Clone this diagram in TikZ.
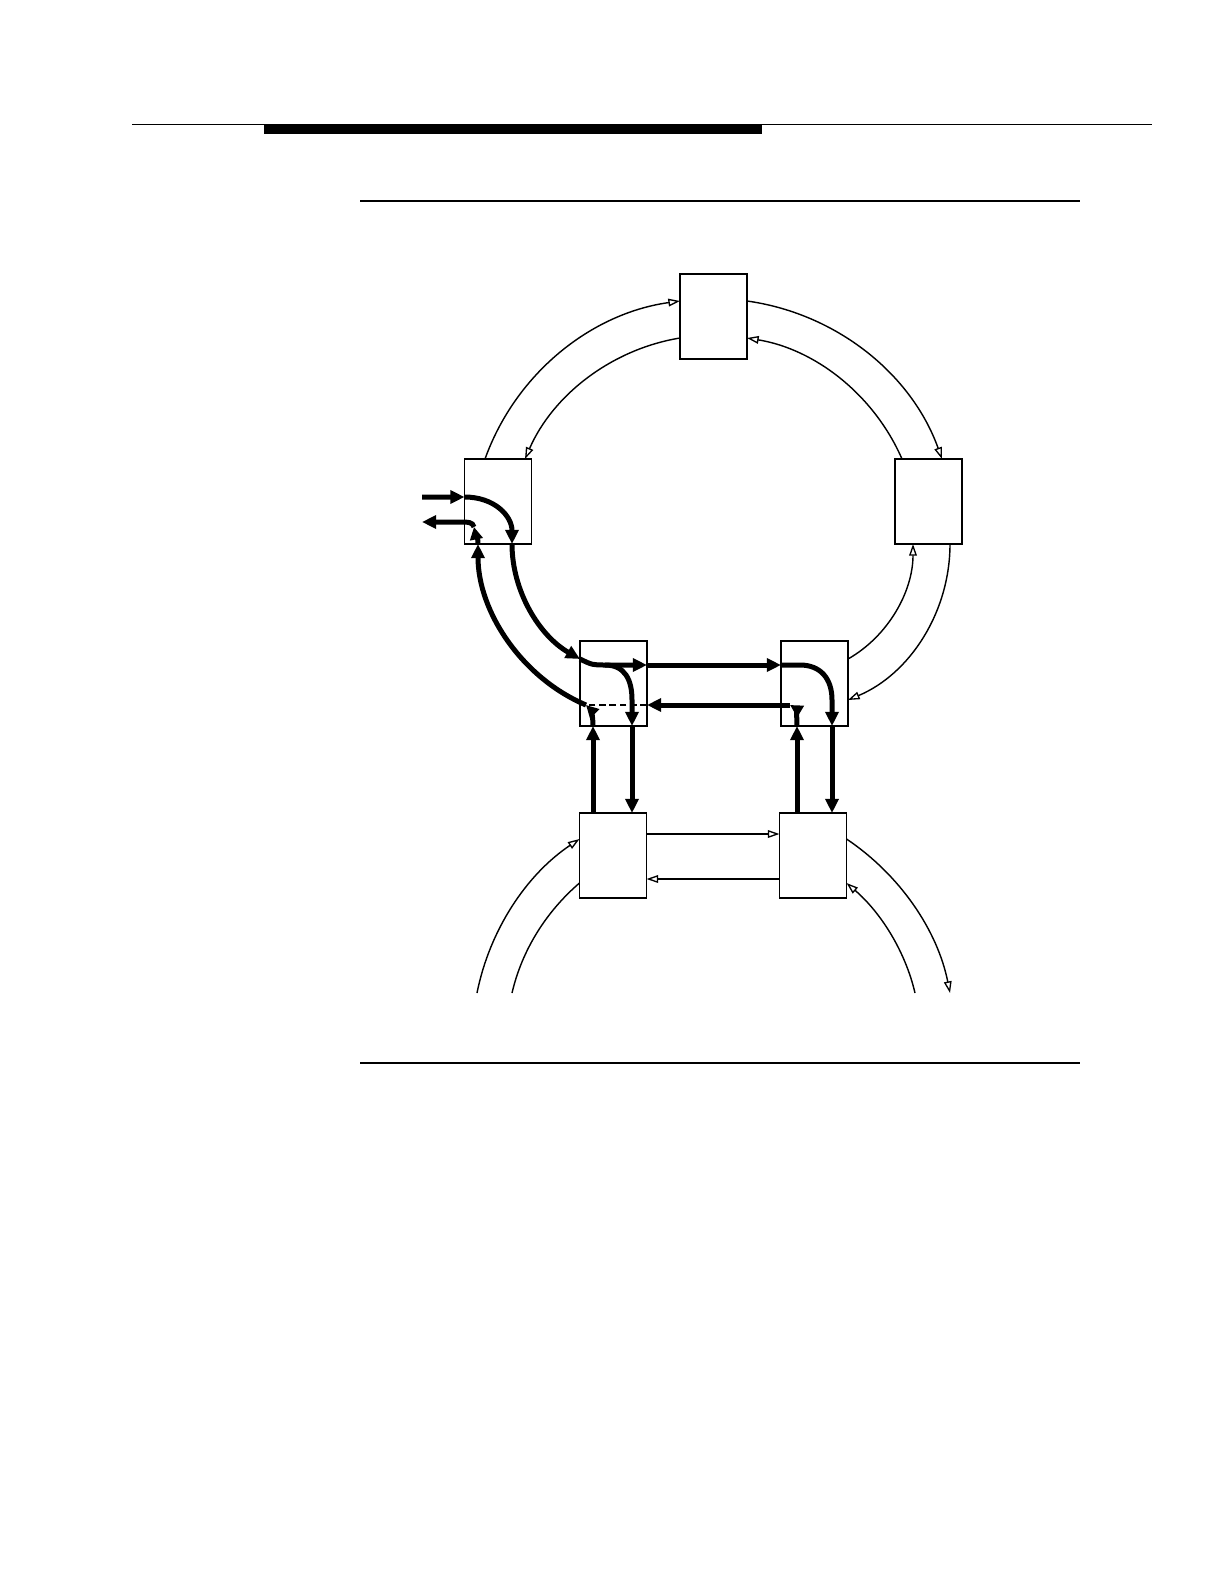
\documentclass[tikz,border=0pt]{standalone}
\usetikzlibrary{arrows.meta,calc}
\tikzset{
  ringbox/.style={draw, line width=0.9pt, minimum width=40.2pt, minimum height=51pt, inner sep=0pt, outer sep=0pt, fill=white},
  thinlink/.style={line width=0.85pt, -{Triangle[open,length=7pt,width=4.6pt,line width=0.8pt]}},
  thinplain/.style={line width=0.85pt},
  heavy/.style={line width=3pt, -{Triangle[length=8.5pt,width=7.8pt]}},
  heavytip/.style={line width=3pt, -{Triangle[length=7.5pt,width=7.5pt]}},
  rulethin/.style={line width=0.6pt},
  rulemid/.style={line width=0.9pt},
}
\begin{document}
\begin{tikzpicture}[x=0.6pt,y=-0.6pt]
\useasboundingbox (0,0) rectangle (1222,1582);
% header rules
\draw[rulethin] (132,125) -- (1152,125);
\fill (264,125) rectangle (762,134);
\draw[rulemid] (360,201) -- (1080,201);
\draw[rulemid] (360,1063) -- (1080,1063);

% boxes
\node[ringbox] (T) at (713.5,316.5) {};
\node[ringbox] (L) at (498,501.5) {};
\node[ringbox] (R) at (928.5,501.5) {};
\node[ringbox] (ML) at (613.5,683.5) {};
\node[ringbox] (MR) at (814.5,683.5) {};
\node[ringbox] (BL) at (613,855.5) {};
\node[ringbox] (BR) at (813,855.5) {};

% free ends
\coordinate (ain) at (422,497);
\coordinate (aout) at (422,522);
\coordinate (lo1) at (477,993);
\coordinate (lo2) at (512,993);
\coordinate (lo3) at (950,993);
\coordinate (lo4) at (915,993);
\coordinate (j1) at ($(ML.north west)+(25,24)$);
\coordinate (j2) at ($(MR.north west)+(9,64)$);
\coordinate (j3) at ($(ML.north west)+(6,64)$);
\coordinate (j4) at ($(L.north west)+(9.5,68)$);
\coordinate (j5) at ($(L.north west)+(-2.5,63)$);

% upper ring, thin
\draw[thinlink] ($(L.north west)+(20.5,0)$) .. controls +(30.5,-85.1) and +(-89.4,12.5) .. ($(T.north west)+(0,27)$);
\draw[thinlink] ($(T.north west)+(0,64)$) .. controls +(-68.7,11.3) and +(27.8,-63.8) .. ($(L.north west)+(60.5,0)$);
\draw[thinlink] ($(T.north east)+(0,27)$) .. controls +(89.4,12.5) and +(-30.5,-85.1) .. ($(R.north west)+(47,0)$);
\draw[thinlink] ($(R.north west)+(7,0)$) .. controls +(-27.8,-63.8) and +(68.7,11.3) .. ($(T.north east)+(0,64)$);
\draw[thinlink] ($(R.south west)+(55,0)$) .. controls +(0,67.6) and +(62.3,-26.2) .. ($(MR.north east)+(0,59)$);
\draw[thinlink] ($(MR.north east)+(0,18)$) .. controls +(40.8,-23.3) and +(0,47) .. ($(R.south west)+(18,0)$);

% lower ring, thin
\draw[thinlink] (lo1) .. controls +(12.5,-62.7) and +(-53.3,35.7) .. ($(BL.north west)+(0,26)$);
\draw[thinplain] (lo2) .. controls +(10,-42.9) and +(-33.4,28.7) .. ($(BL.north west)+(0,70)$);
\draw[thinlink] ($(BR.north east)+(0,26)$) .. controls +(53.3,35.7) and +(-12.5,-62.7) .. (lo3);
\draw[thinlink] (lo4) .. controls +(-10,-42.9) and +(33.4,28.7) .. ($(BR.north east)+(0,70)$);
\draw[thinlink] ($(BL.north east)+(0,21)$) -- ($(BR.north west)+(0,21)$);
\draw[thinlink] ($(BR.north west)+(0,66)$) -- ($(BL.north east)+(0,66)$);

% heavy forward path
\draw[heavy] (ain) -- ($(L.north west)+(0,38)$);
\draw[heavy] ($(L.north west)+(0,38)$) .. controls +(30,0) and +(0,-28) .. ($(L.south west)+(47.5,0)$);
\draw[heavy] ($(L.south west)+(47.5,0)$) .. controls +(0,47) and +(-40.8,-23.3) .. ($(ML.north west)+(0,18)$);
\draw[heavy] ($(ML.north west)+(0,18)$) .. controls +(12,6) and +(-12,0) .. (j1) -- ($(ML.north east)+(0,24)$);
\draw[heavy] ($(ML.north east)+(0,24)$) -- ($(MR.north west)+(0,24)$);
\draw[heavy] ($(MR.north west)+(0,24)$) -- ++(19,0) .. controls +(20,0) and +(0,-22) .. ++(32,35) -- ($(MR.south west)+(51,0)$);
\draw[heavy] ($(MR.south west)+(51,0)$) -- ($(BR.north west)+(52.5,0)$);
\draw[heavy] (j1) .. controls +(20,0) and +(0,-20) .. ($(j1)+(27,35)$) -- ($(ML.south west)+(52,0)$);
\draw[heavy] ($(ML.south west)+(52,0)$) -- ($(BL.north west)+(52.5,0)$);

% heavy return path
\draw[heavy] ($(BR.north west)+(17.5,0)$) -- ($(MR.south west)+(16,0)$);
\draw[heavytip] ($(MR.south west)+(16,0)$) .. controls +(0,-12) and +(5,3) .. (j2);
\draw[heavy] (j2) -- ($(ML.north east)+(0,64)$);
\draw[line width=1pt, dash pattern=on 4pt off 2.2pt] ($(ML.north east)+(0,64)$) -- (j3);
\draw[heavy] ($(BL.north west)+(13.5,0)$) -- ($(ML.south west)+(13,0)$);
\draw[heavytip] ($(ML.south west)+(13,0)$) .. controls +(0,-12) and +(4,4) .. (j3);
\draw[heavy] (j3) .. controls +(-64,-27) and +(0,67.6) .. ($(L.south west)+(13.5,0)$);
\draw[heavytip] ($(L.south west)+(13.5,0)$) .. controls +(0,-9) and +(1,5) .. (j4);
\draw[heavy] (j4) .. controls +(-1,-5) and +(5,0) .. (j5) -- (aout);
\end{tikzpicture}
\end{document}
